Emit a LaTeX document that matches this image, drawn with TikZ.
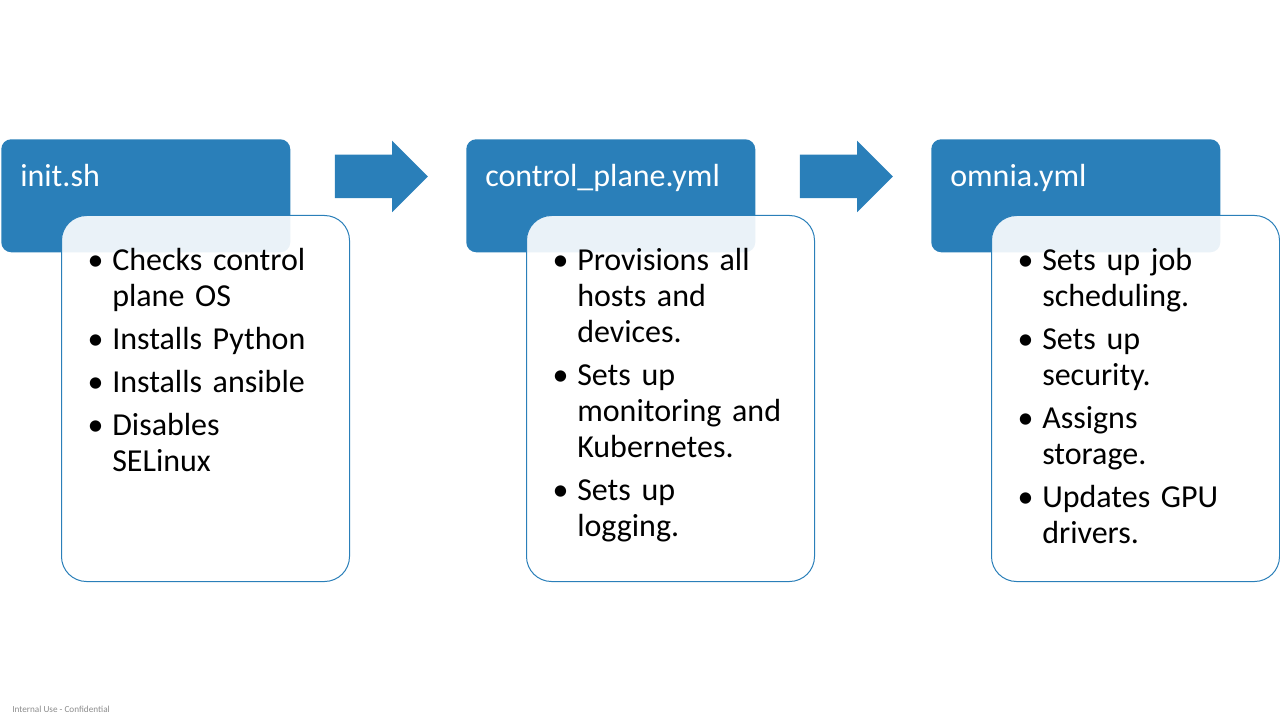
\documentclass[tikz,border=0pt]{standalone}
\usepackage{fontspec}
\setmainfont{Carlito}
\usepackage{enumitem}
\usetikzlibrary{positioning, calc, shapes.arrows}
\definecolor{stepblue}{HTML}{2A7FB9}
\definecolor{footgray}{HTML}{8C8C8C}
\tikzstyle{hdr}=[fill=stepblue, rounded corners=7.5pt, minimum width=216.75pt, minimum height=84.75pt, inner sep=0pt]
\tikzstyle{hdrtext}=[text=white, font=\fontsize{24pt}{27pt}\selectfont, inner sep=0pt, anchor=base west]
\tikzstyle{body}=[draw=stepblue, line width=0.75pt, fill=white, fill opacity=0.9, rounded corners=18.75pt, minimum width=216pt, minimum height=274.5pt, inner sep=0pt]
\tikzstyle{bodytext}=[text width=200pt, font=\fontsize{24pt}{27pt}\selectfont, inner sep=0pt, anchor=base west]
\tikzstyle{blockarrow}=[single arrow, fill=stepblue, minimum height=69.75pt, inner xsep=0pt, inner ysep=16.125pt, single arrow head extend=10.5pt, single arrow tip angle=90]
\newcommand{\steplist}[1]{\begin{itemize}[nosep, leftmargin=12.75pt, labelsep=6.5pt, itemsep=5.25pt]#1\end{itemize}}

\begin{document}
\begin{tikzpicture}[node distance=348.75pt]
  \useasboundingbox (0,0) rectangle (960pt,-540pt);
  \node [hdr, anchor=north west] (h1) at (0.75pt,-104.25pt) {};
  \node [hdr] (h2) [right of=h1] {};
  \node [hdr] (h3) [right of=h2] {};
  \node [hdrtext, below right=36pt and 14.25pt of h1.north west, anchor=base west] (t1) {init.sh};
  \node [hdrtext, below right=36pt and 14.25pt of h2.north west, anchor=base west] (t2) {control\_plane.yml};
  \node [hdrtext, below right=36pt and 14.25pt of h3.north west, anchor=base west] (t3) {omnia.yml};
  \node [body, below right=57pt and 45pt of h1.north west] (b1) {};
  \node [body, below right=57pt and 45pt of h2.north west] (b2) {};
  \node [body, below right=57pt and 45pt of h3.north west] (b3) {};
  \node [bodytext, below right=14.25pt and 25.5pt of b1.north west, anchor=base west] (l1) {\steplist{
    \item Checks control\\ plane OS
    \item Installs Python
    \item Installs ansible
    \item Disables\\ SELinux}};
  \node [bodytext, below right=14.25pt and 25.5pt of b2.north west, anchor=base west] (l2) {\steplist{
    \item Provisions all\\ hosts and\\ devices.
    \item Sets up\\ monitoring and\\ Kubernetes.
    \item Sets up\\ logging.}};
  \node [bodytext, below right=14.25pt and 25.5pt of b3.north west, anchor=base west] (l3) {\steplist{
    \item Sets up job\\ scheduling.
    \item Sets up\\ security.
    \item Assigns\\ storage.
    \item Updates GPU\\ drivers.}};
  \node [blockarrow, below right=28.1pt and 33pt of h1.north east, anchor=west] (a1) {};
  \node [blockarrow, below right=28.1pt and 33pt of h2.north east, anchor=west] (a2) {};
  \node [text=footgray, font=\fontsize{6.9pt}{8pt}\selectfont, inner sep=0pt, anchor=base west] (foot) at (9pt,-534pt) {Internal Use - Confidential};
\end{tikzpicture}
\end{document}
